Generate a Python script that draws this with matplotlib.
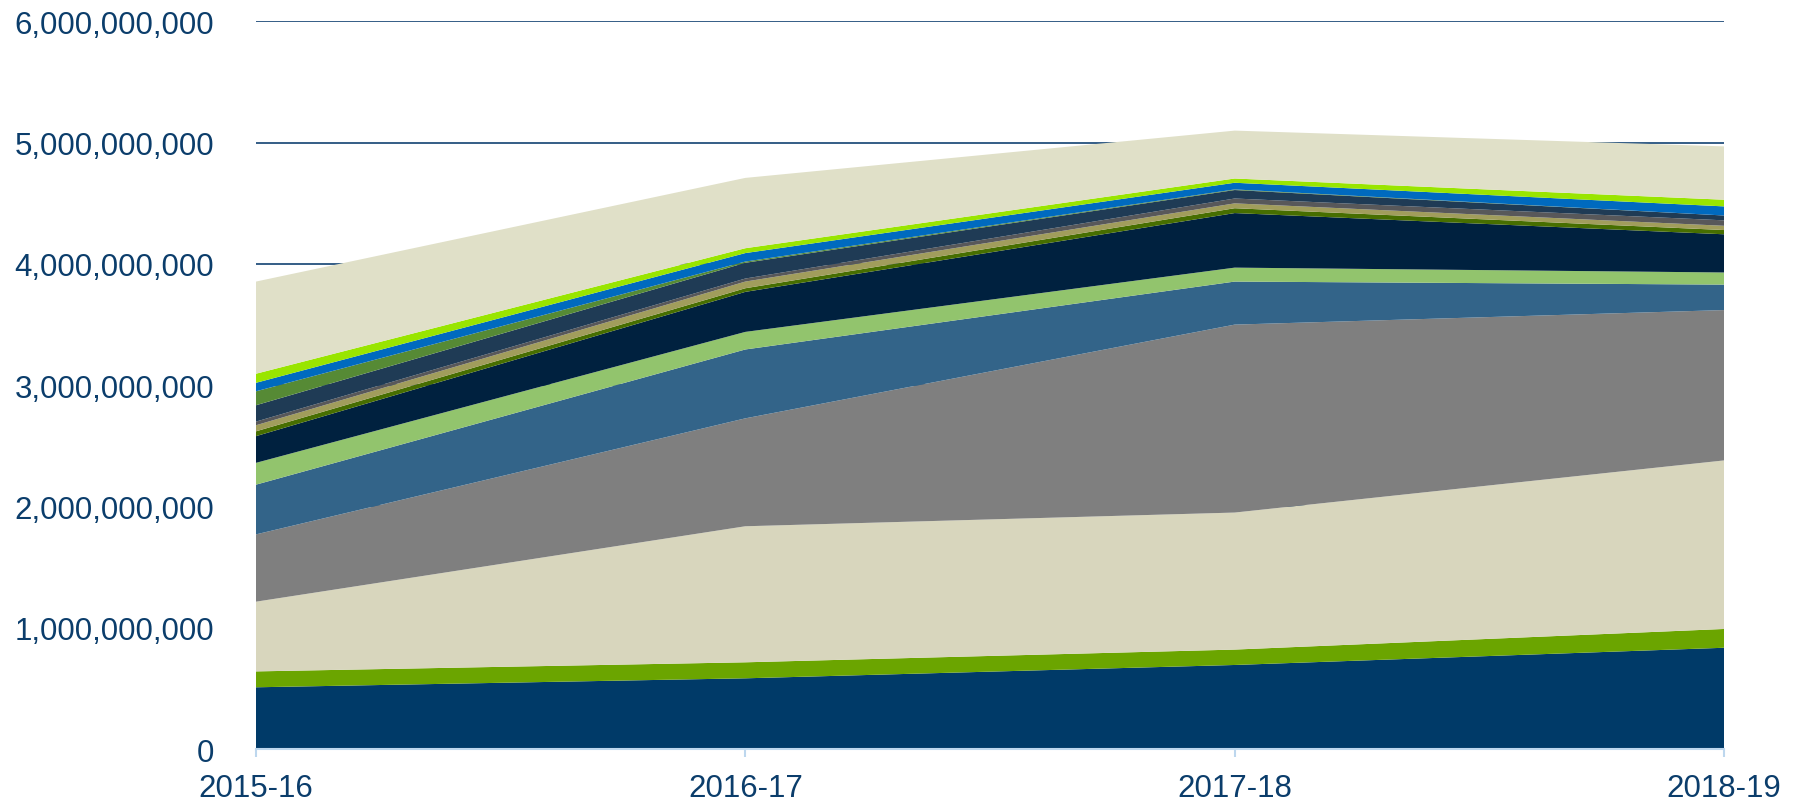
import numpy as np
import matplotlib.pyplot as plt
from matplotlib.ticker import FuncFormatter

# --- data (values in millions, stacked bottom to top) ---
years = ['2015-16', '2016-17', '2017-18', '2018-19']

s01 = [509, 583, 693, 835]
s02 = [131, 132, 127, 155]
s03 = [575, 1122, 1130, 1390]
s04 = [555, 890, 1550, 1240]
s05 = [410, 568, 355, 210]
s06 = [180, 145, 115, 100]
s07 = [220, 330, 450, 315]
s08 = [40, 30, 40, 35]
s09 = [50, 55, 40, 35]
s10 = [30, 25, 40, 45]
s11 = [135, 130, 70, 40]
s12 = [115, 10, 5, 0]
s13 = [70, 70, 55, 75]
s14 = [75, 40, 35, 55]
s15 = [760, 580, 395, 440]

colors = ['#003a68', '#6ba500', '#d8d6bd', '#7f7f7f', '#336489',
          '#92c46d', '#00213f', '#476e00', '#a19d5c', '#58585a',
          '#1f3b55', '#568a35', '#006abf', '#99e500', '#e0e0c8']

series = [s01, s02, s03, s04, s05, s06, s07, s08, s09, s10,
          s11, s12, s13, s14, s15]

TEXT = '#0b3d6b'

plt.rcParams['font.family'] = ['Liberation Sans', 'DejaVu Sans']

fig = plt.figure(figsize=(18, 8.03), dpi=100)
ax = fig.add_axes([0.1422, 0.066, 0.8156, 0.906])

x = np.arange(len(years))
ys = np.array(series, dtype=float) * 1e6
ax.stackplot(x, ys, colors=colors, linewidth=0, zorder=2)

# gridlines behind the areas
ax.set_ylim(0, 6e9)
ax.set_yticks(np.arange(0, 6.01e9, 1e9))
ax.yaxis.grid(True, color='#24507d', linewidth=1.3, zorder=0)
ax.set_axisbelow(True)
ax.set_xlim(0, 3)
ax.set_xticks(x)
ax.set_xticklabels(years)

ax.yaxis.set_major_formatter(FuncFormatter(lambda v, p: f'{int(round(v)):,}'))

for side in ['top', 'right', 'left']:
    ax.spines[side].set_visible(False)
ax.spines['bottom'].set_color('#bdd7ee')
ax.spines['bottom'].set_linewidth(1.5)
ax.spines['bottom'].set_zorder(3)

ax.tick_params(axis='y', length=0, pad=30, labelsize=22.5, labelcolor=TEXT)
ax.tick_params(axis='x', length=6, width=1.5, color='#bdd7ee', pad=11,
               labelsize=22.5, labelcolor=TEXT)

fig.savefig('out.png', dpi=100)
